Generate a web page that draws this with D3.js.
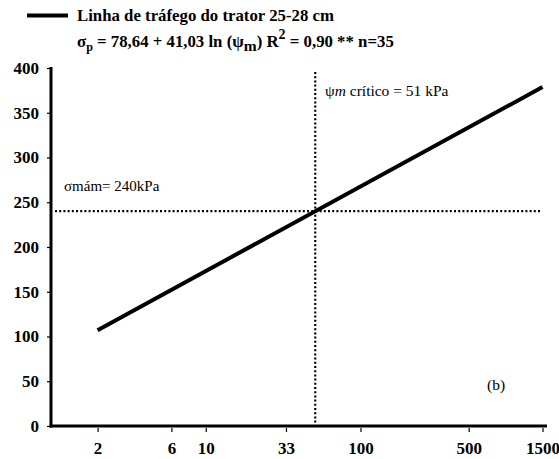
<!DOCTYPE html>
<html><head><meta charset="utf-8">
<script src="https://cdn.jsdelivr.net/npm/d3@7"></script>
<style>body{margin:0;background:#fff}svg{display:block}</style>
</head><body>
<script>
const xTicks = [2, 6, 10, 33, 100, 500, 1500];
const yTicks = [0, 50, 100, 150, 200, 250, 300, 350, 400];
const lineX = [2, 1500];
const coefA = 78.64, coefB = 41.03;
const lineY = [107.08, 378.67];
const critX = 51;
const limitY = 240;

const FF = "'Liberation Serif', 'Times New Roman', 'DejaVu Serif', serif";
const W = 559, H = 459;
const svg = d3.select("body").append("svg").attr("width", W).attr("height", H)
  .style("font-family", FF);
const x = d3.scaleLog().domain([1, 1500]).range([51, 542.5]);
const y = d3.scaleLinear().domain([0, 400]).range([426, 68]);

// axes
const xAxis = d3.axisBottom(x).tickValues(xTicks).tickSize(4).tickFormat(d3.format("d"));
const gx = svg.append("g").attr("transform", "translate(0,426)").call(xAxis).attr("font-family", null);
gx.select(".domain").remove();
gx.selectAll(".tick line").attr("stroke", "#000").attr("stroke-width", 1.2).attr("y1", 2).attr("y2", 6);
gx.selectAll(".tick text").attr("y", 16).attr("dy", "0.71em").style("font-family", FF).style("font-size", "17px").style("font-weight", "bold").attr("fill", "#000");

const yAxis = d3.axisLeft(y).tickValues(yTicks).tickSize(4);
const gy = svg.append("g").attr("transform", "translate(51,0)").call(yAxis).attr("font-family", null);
gy.select(".domain").remove();
gy.selectAll(".tick line").attr("stroke", "#000").attr("stroke-width", 1.2);
gy.selectAll(".tick text").attr("x", -12).style("font-family", FF).style("font-size", "17px").style("font-weight", "bold").attr("fill", "#000");

svg.append("line").attr("x1", 51).attr("x2", 51).attr("y1", y(400) - 1).attr("y2", 427.5).attr("stroke", "#000").attr("stroke-width", 3);
svg.append("line").attr("x1", 49.5).attr("x2", 547).attr("y1", 426).attr("y2", 426).attr("stroke", "#000").attr("stroke-width", 3);

// reference lines
svg.append("line").attr("x1", 55).attr("x2", 541).attr("y1", y(limitY)).attr("y2", y(limitY))
  .attr("stroke", "#000").attr("stroke-width", 2.2).attr("stroke-dasharray", "2,2.2");
svg.append("line").attr("x1", x(critX)).attr("x2", x(critX)).attr("y1", 72).attr("y2", 424)
  .attr("stroke", "#000").attr("stroke-width", 2.2).attr("stroke-dasharray", "2,2.2");

// regression line
const pts = lineX.map((v, i) => [v, lineY[i]]);
svg.append("path").datum(pts).attr("d", d3.line().x(d => x(d[0])).y(d => y(d[1])))
  .attr("stroke", "#000").attr("stroke-width", 4).attr("fill", "none");

// annotations
svg.append("text").attr("x", 325).attr("y", 96).style("font-family", FF).style("font-size", "15.5px")
  .html('<tspan>ψ</tspan><tspan font-style="italic">m</tspan><tspan> crítico = 51 kPa</tspan>');
svg.append("text").attr("x", 64).attr("y", 191).style("font-family", FF).style("font-size", "15px").text("σmám= 240kPa");
svg.append("text").attr("x", 487).attr("y", 390).style("font-family", FF).style("font-size", "15.5px").text("(b)");

// legend
svg.append("line").attr("x1", 27).attr("x2", 68).attr("y1", 15.5).attr("y2", 15.5).attr("stroke", "#000").attr("stroke-width", 4);
svg.append("text").attr("x", 77).attr("y", 21).style("font-family", FF).style("font-size", "16.8px").style("font-weight", "bold")
  .text("Linha de tráfego do trator 25-28 cm");
svg.append("text").attr("x", 77).attr("y", 47).style("font-family", FF).style("font-size", "16.8px").style("font-weight", "bold")
  .html('σ<tspan dy="4" font-size="12">p</tspan><tspan dy="-4"> = ' + coefA.toString().replace(".", ",") + ' + ' + coefB.toString().replace(".", ",") + ' ln (ψ</tspan><tspan dy="4" font-size="15.5">m</tspan><tspan dy="-4">) R</tspan><tspan dy="-8" font-size="14">2</tspan><tspan dy="8"> = 0,90 ** n=35</tspan>');
</script>
</body></html>
